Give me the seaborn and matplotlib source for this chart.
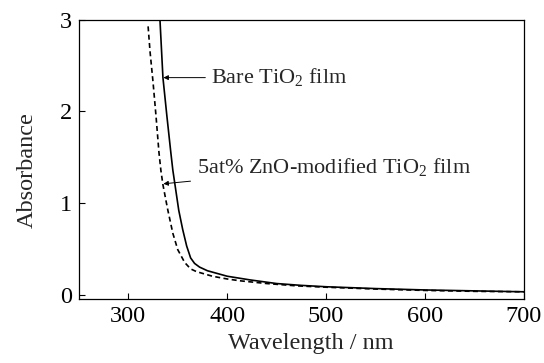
import numpy as np
import pandas as pd
import matplotlib
matplotlib.use("Agg")
import matplotlib.pyplot as plt
import seaborn as sns

# values
bare_wl = [332, 335, 339, 343, 345, 348, 351, 355, 359, 363, 367, 372, 380, 390,
           400, 423, 450, 475, 500, 550, 600, 650, 700]
bare_abs = [3.0, 2.37, 1.95, 1.55, 1.36, 1.14, 0.92, 0.71, 0.53, 0.40, 0.34, 0.30,
            0.26, 0.23, 0.20, 0.16, 0.12, 0.10, 0.085, 0.065, 0.05, 0.04, 0.03]

zno_wl = [320, 322, 325, 328, 331, 333, 335, 338, 340, 345, 350, 357, 363, 369,
          385, 400, 413, 440, 470, 500, 550, 600, 650, 700]
zno_abs = [2.93, 2.65, 2.32, 1.95, 1.55, 1.35, 1.20, 1.03, 0.92, 0.67, 0.49, 0.35,
           0.28, 0.25, 0.20, 0.17, 0.15, 0.12, 0.095, 0.08, 0.06, 0.045, 0.035, 0.03]

x_ticks = [300, 400, 500, 600, 700]
y_ticks = [0, 1, 2, 3]

df = pd.concat([
    pd.DataFrame({"wl": bare_wl, "absorb": bare_abs, "film": "bare"}),
    pd.DataFrame({"wl": zno_wl, "absorb": zno_abs, "film": "zno"}),
])

sns.set_style("ticks")
plt.rcParams["font.family"] = ["Liberation Serif", "DejaVu Serif"]
plt.rcParams["mathtext.fontset"] = "custom"
plt.rcParams["mathtext.rm"] = "Liberation Serif"

fig = plt.figure(figsize=(5.44, 3.63), dpi=100)
ax = fig.add_axes([0.145, 0.176, 0.818, 0.769])

sns.lineplot(data=df, x="wl", y="absorb", style="film", color="black",
             dashes={"bare": "", "zno": (3, 2)}, linewidth=1.2,
             legend=False, ax=ax, sort=False)

ax.set_xlim(250, 700)
ax.set_ylim(-0.05, 3)
ax.set_xticks(x_ticks)
ax.set_yticks(y_ticks)
ax.tick_params(direction="in", length=4, width=0.8, labelsize=17.5, pad=5,
               colors="black")
for s in ax.spines.values():
    s.set_linewidth(0.9)
    s.set_color("black")

ax.set_xlabel("Wavelength / nm", fontsize=17.5, labelpad=4)
ax.set_ylabel("Absorbance", fontsize=17.5, labelpad=16)
ax.xaxis.label.set_x(0.521)
ax.yaxis.label.set_y(0.462)

arrow = dict(arrowstyle="-|>", color="black", lw=0.7, mutation_scale=7,
             shrinkA=2, shrinkB=0)
ax.annotate("Bare TiO$_\\mathregular{2}$ film", xy=(335.5, 2.37), xytext=(384, 2.37),
            fontsize=16, va="center", ha="left", arrowprops=arrow)
ax.annotate("5at% ZnO-modified TiO$_\\mathregular{2}$ film", xy=(335.5, 1.21),
            xytext=(369, 1.39), fontsize=16, va="center", ha="left",
            arrowprops=arrow)

fig.savefig("out.png", dpi=100)
